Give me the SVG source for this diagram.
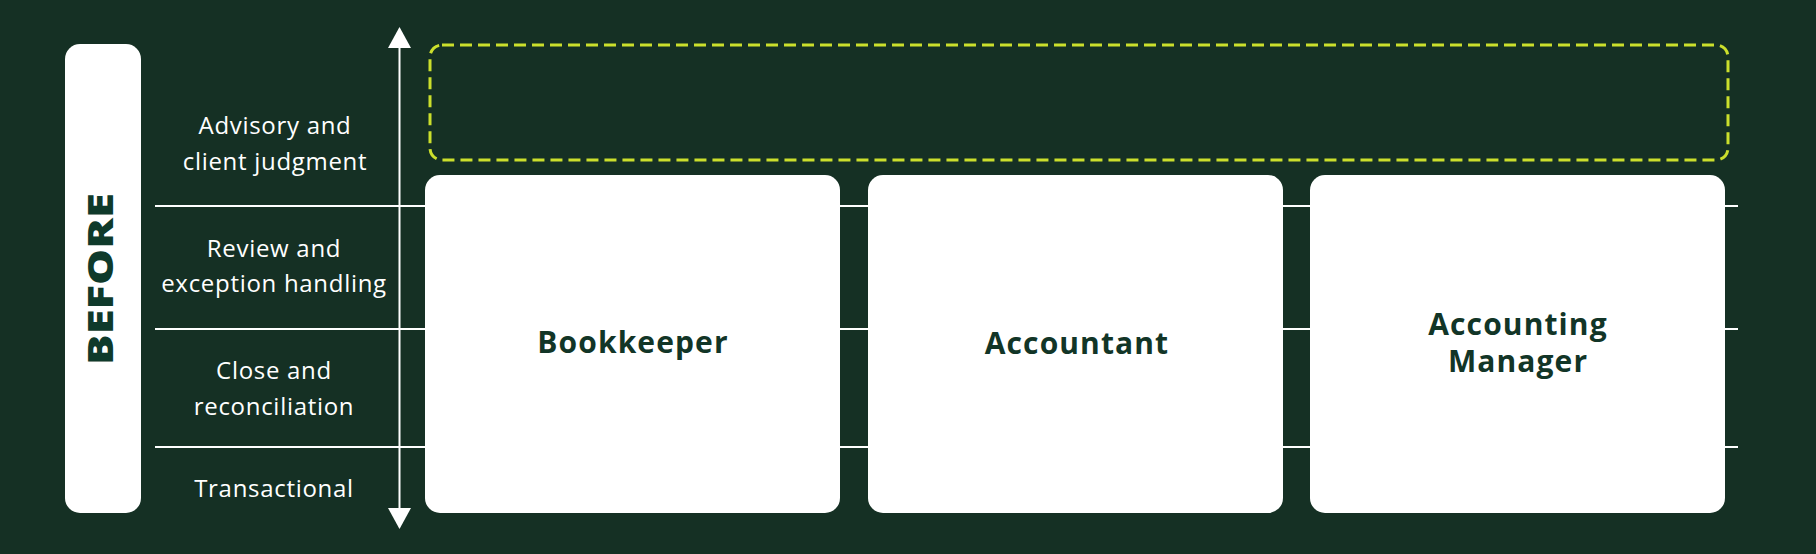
<svg xmlns="http://www.w3.org/2000/svg" width="1816" height="554" viewBox="0 0 1816 554">
<defs>
<style>
.bg{fill:#153024}
.row{font-family:"Open Sans","Liberation Sans",sans-serif;font-size:24px;letter-spacing:0.7px;fill:#ffffff;text-anchor:middle}
.card{fill:#ffffff}
.cl{font-family:"Open Sans","Liberation Sans",sans-serif;font-weight:700;font-size:30px;letter-spacing:1.1px;fill:#123527;text-anchor:middle}
.grid{stroke:#ffffff;stroke-width:2;fill:none}
.axis{stroke:#ffffff;stroke-width:2;fill:none}
.head{fill:#ffffff}
.dash{fill:none;stroke:#cbdf2c;stroke-width:3;stroke-dasharray:12 6}
</style>
</defs>
<rect class="bg" x="0" y="0" width="1816" height="554"/>
<g id="connectors">
<line class="grid" x1="155" y1="206" x2="1738" y2="206"/>
<line class="grid" x1="155" y1="329" x2="1738" y2="329"/>
<line class="grid" x1="155" y1="447" x2="1738" y2="447"/>
<line class="axis" x1="399.5" y1="46" x2="399.5" y2="510"/>
<polygon class="head" points="399.5,27 388,48 411,48"/>
<polygon class="head" points="399.5,529 388,508 411,508"/>
</g>
<g id="before">
<rect x="65" y="44" width="76" height="469" rx="15" fill="#ffffff"/>
<text x="113" y="279" transform="rotate(-90 113 279)" font-family="Open Sans, Liberation Sans, sans-serif" font-weight="800" font-size="35" fill="#0f3a2b" text-anchor="middle" textLength="172" lengthAdjust="spacingAndGlyphs">BEFORE</text>
</g>
<g id="row-advisory">
<text class="row" x="275" y="134">Advisory and</text>
<text class="row" x="275" y="170">client judgment</text>
</g>
<g id="row-review">
<text class="row" x="274" y="257">Review and</text>
<text class="row" x="274" y="292">exception handling</text>
</g>
<g id="row-close">
<text class="row" x="274" y="379">Close and</text>
<text class="row" x="274" y="415">reconciliation</text>
</g>
<g id="row-transactional">
<text class="row" x="274" y="497">Transactional</text>
</g>
<g id="advisory-slot">
<rect class="dash" x="430" y="45" width="1298" height="115" rx="12"/>
</g>
<g id="bookkeeper">
<rect class="card" x="425" y="175" width="415" height="338" rx="15"/>
<text class="cl" x="633" y="353">Bookkeeper</text>
</g>
<g id="accountant">
<rect class="card" x="868" y="175" width="415" height="338" rx="15"/>
<text class="cl" x="1077" y="354">Accountant</text>
</g>
<g id="accounting-manager">
<rect class="card" x="1310" y="175" width="415" height="338" rx="15"/>
<text class="cl" x="1518" y="335">Accounting</text>
<text class="cl" x="1518" y="372">Manager</text>
</g>
</svg>
